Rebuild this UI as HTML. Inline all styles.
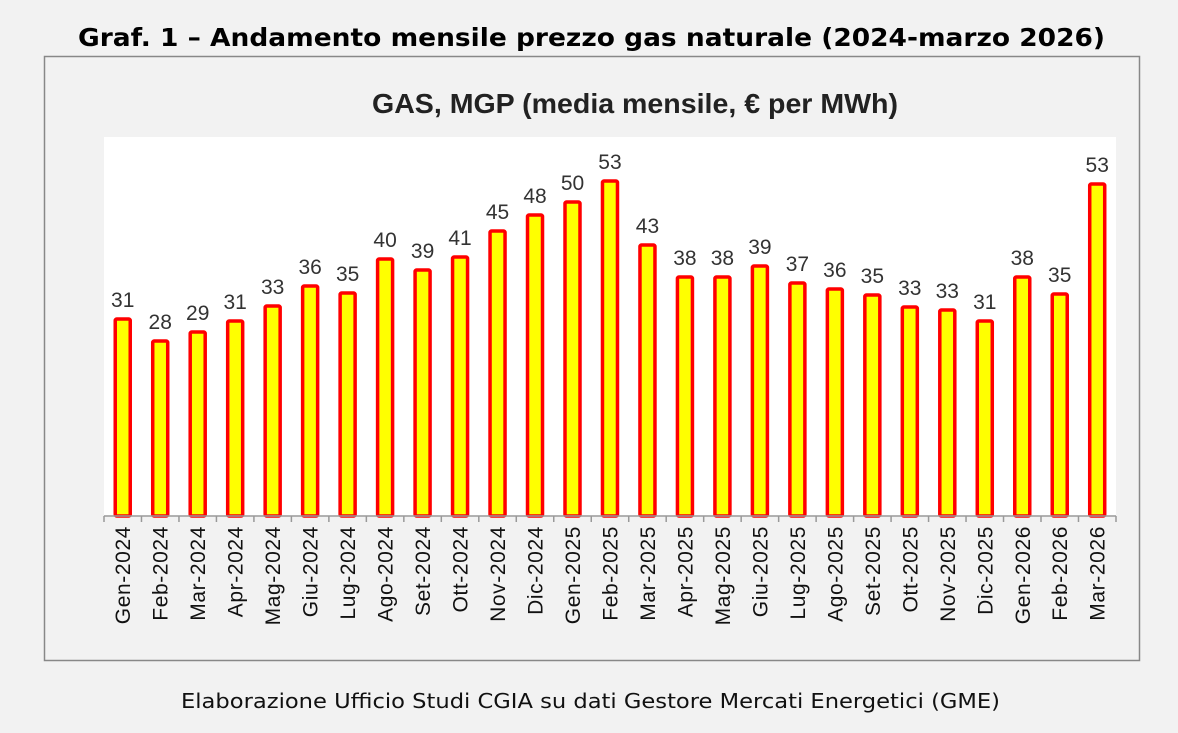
<!DOCTYPE html>
<html><head><meta charset="utf-8"><style>
html,body{margin:0;padding:0;background:#f2f2f2;}
svg{display:block;}
</style></head><body>
<svg width="1178" height="733" xmlns="http://www.w3.org/2000/svg">
<rect width="1178" height="733" fill="#f2f2f2"/>
<text x="78" y="46" textLength="1027" lengthAdjust="spacingAndGlyphs" font-family="DejaVu Sans, sans-serif" font-weight="bold" font-size="25" fill="#000">Graf. 1 – Andamento mensile prezzo gas naturale (2024-marzo 2026)</text>
<rect x="44.5" y="56.5" width="1095" height="604" fill="#f2f2f2" stroke="#888" stroke-width="1.5"/>
<text x="372" y="113" textLength="526" lengthAdjust="spacingAndGlyphs" font-family="Liberation Sans, sans-serif" font-weight="bold" font-size="28" fill="#222">GAS, MGP (media mensile, € per MWh)</text>
<rect x="104" y="137" width="1012" height="379" fill="#fff"/>
<g id="bars"></g>
<line x1="104" y1="516" x2="1116" y2="516" stroke="#999" stroke-width="1.5"/>
<text x="181" y="708" textLength="819" lengthAdjust="spacingAndGlyphs" font-family="DejaVu Sans, sans-serif" font-size="20" fill="#111">Elaborazione Ufficio Studi CGIA su dati Gestore Mercati Energetici (GME)</text>
</svg>
<script>
var labels=["Gen-2024","Feb-2024","Mar-2024","Apr-2024","Mag-2024","Giu-2024","Lug-2024","Ago-2024","Set-2024","Ott-2024","Nov-2024","Dic-2024","Gen-2025","Feb-2025","Mar-2025","Apr-2025","Mag-2025","Giu-2025","Lug-2025","Ago-2025","Set-2025","Ott-2025","Nov-2025","Dic-2025","Gen-2026","Feb-2026","Mar-2026"];
var vals=[31,28,29,31,33,36,35,40,39,41,45,48,50,53,43,38,38,39,37,36,35,33,33,31,38,35,53];
var tops=[319,341,332,321,306,286,293,259,270,257,231,215,202,181,245,277,277,266,283,289,295,307,310,321,277,294,184];
var g=document.getElementById('bars'),s='';
var w=37.48;
for(var i=0;i<27;i++){
 var cx=104+(i+0.5)*w, t=tops[i];
 s+='<rect x="'+(cx-7.5)+'" y="'+t+'" width="15" height="'+(516-t)+'" fill="#ffff00" stroke="#ff0000" stroke-width="3.5" rx="1.5"/>';
 s+='<text x="'+cx+'" y="'+(t-12)+'" text-anchor="middle" font-family="Liberation Sans, sans-serif" font-size="21" fill="#333">'+vals[i]+'</text>';
 var tx=104+i*w;
 s+='<line x1="'+tx+'" y1="516" x2="'+tx+'" y2="522" stroke="#999" stroke-width="1.5"/>';
 s+='<text transform="translate('+(cx+7.5)+',526) rotate(-90)" text-anchor="end" font-family="Liberation Sans, sans-serif" font-size="21" letter-spacing="0.6" fill="#111">'+labels[i]+'</text>';
}
s+='<line x1="1116" y1="516" x2="1116" y2="522" stroke="#999" stroke-width="1.5"/>';
g.innerHTML=s;
</script>
</body></html>
